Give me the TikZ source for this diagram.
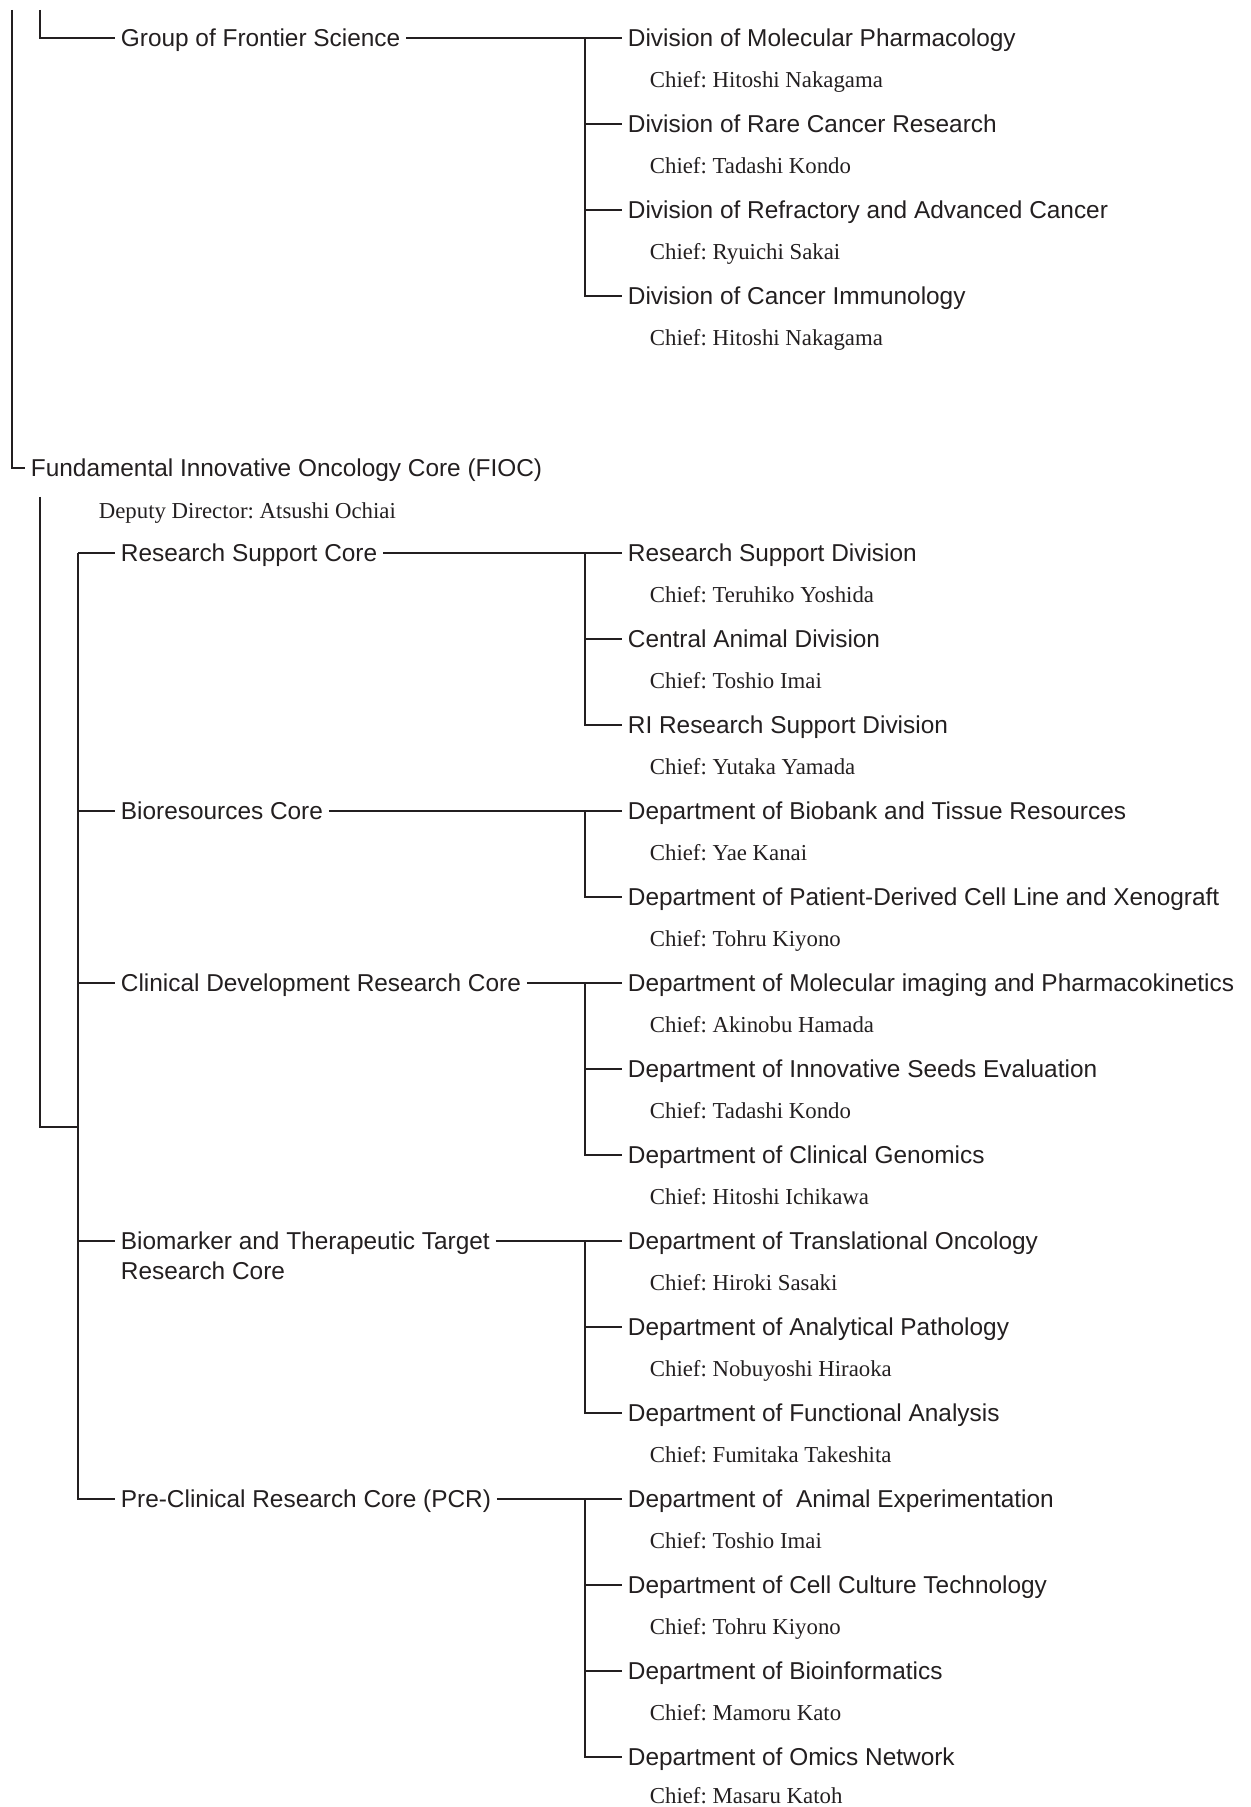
\documentclass[tikz,border=0pt]{standalone}
\usepackage{fontspec}
\setmainfont{Liberation Serif}
\setsansfont{Liberation Sans}
\usetikzlibrary{positioning}
\definecolor{ink}{HTML}{231F20}
\frenchspacing

\begin{document}
\begin{tikzpicture}[x=0.5pt,y=-0.5pt,line width=0.9pt,color=ink,
    unit/.style={anchor=west,inner xsep=2.5pt,inner ysep=0pt,
      text height=8.7pt,text depth=0pt,
      font=\sffamily\fontsize{12.2}{15}\selectfont},
    chief/.style={anchor=west,inner sep=0pt,
      text height=7.6pt,text depth=0pt,
      font=\rmfamily\fontsize{11.4}{14}\selectfont}]
  \useasboundingbox (0,0) rectangle (1250,1807);
  \coordinate (top1) at (12,10);
  \coordinate (top2) at (40,10);
  \coordinate (busR) at (585,0);
  \coordinate (busC) at (78,0);

  % Group of Frontier Science
  \node[unit] (gfs) at (115,38) {Group of Frontier Science};
  \node[unit] (g1) at (622,38) {Division of Molecular Pharmacology};
  \node[chief] (g1c) at (649,80) {Chief: Hitoshi Nakagama};
  \node[unit] (g2) at (622,124) {Division of Rare Cancer Research};
  \node[chief] (g2c) at (649,166) {Chief: Tadashi Kondo};
  \node[unit] (g3) at (622,210) {Division of Refractory and Advanced Cancer};
  \node[chief] (g3c) at (649,252) {Chief: Ryuichi Sakai};
  \node[unit] (g4) at (622,296) {Division of Cancer Immunology};
  \node[chief] (g4c) at (649,338) {Chief: Hitoshi Nakagama};

  % FIOC
  \node[unit] (fioc) at (25,468) {Fundamental Innovative Oncology Core (FIOC)};
  \node[chief] (dep) at (98,511) {Deputy Director: Atsushi Ochiai};
  \coordinate (fiocbus) at (40,497);
  \coordinate (joint) at (78,1127);

  % cores
  \node[unit] (rsc) at (115,553) {Research Support Core};
  \node[unit] (bio) at (115,811) {Bioresources Core};
  \node[unit] (cdrc) at (115,983) {Clinical Development Research Core};
  \node[unit] (btt) at (115,1241)
    {\begin{tabular}[t]{@{}l@{}}Biomarker and Therapeutic Target\\Research Core\end{tabular}};
  \node[unit] (pcr) at (115,1499) {Pre-Clinical Research Core (PCR)};

  % departments
  \node[unit] (r1) at (622,553) {Research Support Division};
  \node[chief] (r1c) at (649,595) {Chief: Teruhiko Yoshida};
  \node[unit] (r2) at (622,639) {Central Animal Division};
  \node[chief] (r2c) at (649,681) {Chief: Toshio Imai};
  \node[unit] (r3) at (622,725) {RI Research Support Division};
  \node[chief] (r3c) at (649,767) {Chief: Yutaka Yamada};
  \node[unit] (b1) at (622,811) {Department of Biobank and Tissue Resources};
  \node[chief] (b1c) at (649,853) {Chief: Yae Kanai};
  \node[unit] (b2) at (622,897) {Department of Patient-Derived Cell Line and Xenograft};
  \node[chief] (b2c) at (649,939) {Chief: Tohru Kiyono};
  \node[unit] (c1) at (622,983) {Department of Molecular imaging and Pharmacokinetics};
  \node[chief] (c1c) at (649,1025) {Chief: Akinobu Hamada};
  \node[unit] (c2) at (622,1069) {Department of Innovative Seeds Evaluation};
  \node[chief] (c2c) at (649,1111) {Chief: Tadashi Kondo};
  \node[unit] (c3) at (622,1155) {Department of Clinical Genomics};
  \node[chief] (c3c) at (649,1197) {Chief: Hitoshi Ichikawa};
  \node[unit] (t1) at (622,1241) {Department of Translational Oncology};
  \node[chief] (t1c) at (649,1283) {Chief: Hiroki Sasaki};
  \node[unit] (t2) at (622,1327) {Department of Analytical Pathology};
  \node[chief] (t2c) at (649,1369) {Chief: Nobuyoshi Hiraoka};
  \node[unit] (t3) at (622,1413) {Department of Functional Analysis};
  \node[chief] (t3c) at (649,1455) {Chief: Fumitaka Takeshita};
  \node[unit] (p1) at (622,1499) {Department of\ \ Animal Experimentation};
  \node[chief] (p1c) at (649,1541) {Chief: Toshio Imai};
  \node[unit] (p2) at (622,1585) {Department of Cell Culture Technology};
  \node[chief] (p2c) at (649,1627) {Chief: Tohru Kiyono};
  \node[unit] (p3) at (622,1671) {Department of Bioinformatics};
  \node[chief] (p3c) at (649,1713) {Chief: Mamoru Kato};
  \node[unit] (p4) at (622,1757) {Department of Omics Network};
  \node[chief] (p4c) at (649,1796) {Chief: Masaru Katoh};

  % connectors
  \draw (top1) |- (fioc.west);
  \draw (top2) |- (gfs.west);
  \draw (gfs.east) -- (g1.west);
  \draw (busR |- g1.west) |- (g4.west);
  \draw (busR |- g2.west) -- (g2.west);
  \draw (busR |- g3.west) -- (g3.west);

  \draw (fiocbus) |- (joint);
  \draw (busC |- rsc.west) |- (pcr.west);
  \draw (busC |- rsc.west) -- (rsc.west);
  \draw (busC |- bio.west) -- (bio.west);
  \draw (busC |- cdrc.west) -- (cdrc.west);
  \draw (busC |- btt.west) -- (btt.west);

  \draw (rsc.east) -- (r1.west);
  \draw (busR |- r1.west) |- (r3.west);
  \draw (busR |- r2.west) -- (r2.west);
  \draw (bio.east) -- (b1.west);
  \draw (busR |- b1.west) |- (b2.west);
  \draw (cdrc.east) -- (c1.west);
  \draw (busR |- c1.west) |- (c3.west);
  \draw (busR |- c2.west) -- (c2.west);
  \draw (btt.east) -- (t1.west);
  \draw (busR |- t1.west) |- (t3.west);
  \draw (busR |- t2.west) -- (t2.west);
  \draw (pcr.east) -- (p1.west);
  \draw (busR |- p1.west) |- (p4.west);
  \draw (busR |- p2.west) -- (p2.west);
  \draw (busR |- p3.west) -- (p3.west);
\end{tikzpicture}
\end{document}
